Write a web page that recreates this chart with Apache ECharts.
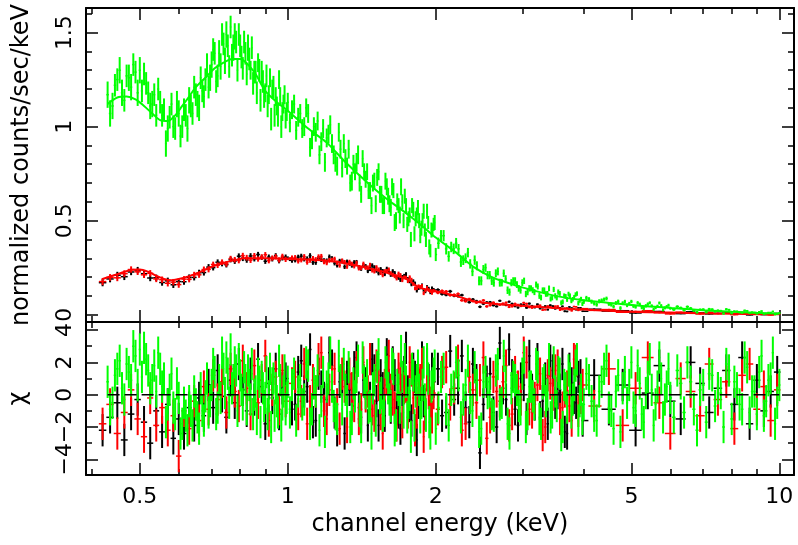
<!DOCTYPE html>
<html>
<head>
<meta charset="utf-8">
<title>spectrum fit</title>
<script src="https://cdn.jsdelivr.net/npm/echarts@6.0.0/dist/echarts.min.js"></script>
<style>
html, body { margin: 0; padding: 0; background: #fff; }
#chart { width: 798px; height: 545px; }
</style>
</head>
<body>
<div id="chart"></div>
<script>
// pn spectrum (green): bin centres in keV, counts/sec/keV, 1-sigma errors, chi residuals
const greenE = [0.430,0.435,0.440,0.445,0.450,0.455,0.460,0.465,0.470,0.475,0.480,0.485,0.490,0.495,0.500,0.505,0.510,0.515,0.520,0.525,0.530,0.535,0.540,0.545,0.550,0.555,0.560,0.565,0.570,0.575,0.580,0.585,0.590,0.595,0.600,0.605,0.610,0.615,0.620,0.625,0.630,0.635,0.640,0.645,0.650,0.655,0.660,0.665,0.670,0.675,0.680,0.685,0.690,0.695,0.700,0.705,0.710,0.715,0.720,0.725,0.730,0.735,0.740,0.745,0.750,0.755,0.760,0.765,0.770,0.775,0.780,0.785,0.790,0.795,0.800,0.805,0.810,0.815,0.820,0.825,0.830,0.835,0.840,0.845,0.850,0.855,0.860,0.865,0.870,0.875,0.880,0.885,0.890,0.895,0.900,0.905,0.910,0.915,0.920,0.925,0.930,0.935,0.940,0.945,0.950,0.955,0.960,0.965,0.970,0.975,0.980,0.985,0.990,0.995,1.000,
  1.01,1.02,1.03,1.04,1.05,1.06,1.07,1.08,1.09,1.10,1.11,1.12,1.13,1.14,1.15,1.16,1.17,1.18,1.19,1.20,1.21,1.22,1.23,1.24,1.25,1.26,1.27,1.28,1.29,1.30,1.31,1.32,1.33,1.34,1.35,1.36,1.37,1.38,1.39,1.40,1.41,1.42,1.43,1.44,1.45,1.46,1.47,1.48,1.49,1.50,1.51,1.52,1.53,1.54,1.55,1.56,1.57,1.58,1.59,1.60,1.61,1.62,1.63,1.64,1.65,1.66,1.67,1.68,1.69,1.70,1.71,1.72,1.73,1.74,1.75,1.76,1.77,1.78,1.79,1.80,1.81,1.82,1.83,1.84,1.85,1.86,1.87,1.88,1.89,1.90,1.91,1.92,1.93,1.94,1.95,1.96,1.97,1.98,1.99,2.00,
  2.025,2.05,2.075,2.10,2.125,2.15,2.175,2.20,2.225,2.25,2.275,2.30,2.325,2.35,2.375,2.40,2.425,2.45,2.475,2.50,2.525,2.55,2.575,2.60,2.625,2.65,2.675,2.70,2.725,2.75,2.775,2.80,2.825,2.85,2.875,2.90,2.925,2.95,2.975,3.00,3.025,3.05,3.075,3.10,3.125,3.15,3.175,3.20,3.225,3.25,3.275,3.30,3.325,3.35,3.375,3.40,3.425,3.45,3.475,3.50,3.525,3.55,3.575,3.60,3.625,3.65,3.675,3.70,3.725,3.75,3.775,3.80,3.825,3.85,3.875,3.90,3.925,3.95,3.975,4.00,
  4.05,4.1,4.15,4.2,4.25,4.3,4.35,4.4,4.45,4.5,4.55,4.6,4.65,4.7,4.75,4.8,4.85,4.9,4.95,5.0,5.05,5.1,5.15,5.2,5.25,5.3,5.35,5.4,5.45,5.5,5.55,5.6,5.65,5.7,5.75,5.8,5.85,5.9,5.95,6.0,
  6.1,6.2,6.3,6.4,6.5,6.6,6.7,6.8,6.9,7.0,7.1,7.2,7.3,7.4,7.5,7.6,7.7,7.8,7.9,8.0,8.1,8.2,8.3,8.4,8.5,8.6,8.7,8.8,8.9,9.0,9.1,9.2,9.3,9.4,9.5,9.6,9.7,9.8,9.9,10.0];
const greenFlux = [1.17,1.07,1.11,1.22,1.25,1.30,1.18,1.14,1.27,1.26,1.21,1.33,1.29,1.18,1.30,1.19,1.28,1.23,1.18,1.11,
  1.12,1.17,1.06,1.20,1.13,1.06,1.09,0.91,0.99,1.05,1.12,1.00,0.99,1.12,1.07,0.95,1.00,1.09,1.06,0.99,
  1.14,1.11,1.07,1.21,1.17,1.12,1.10,1.26,1.19,1.16,1.25,1.33,1.21,1.26,1.33,1.41,1.39,1.24,1.27,1.39,
  1.32,1.49,1.44,1.35,1.49,1.43,1.32,1.53,1.38,1.42,1.48,1.45,1.30,1.49,1.43,1.37,1.31,1.45,1.39,1.28,
  1.42,1.36,1.30,1.42,1.23,1.29,1.29,1.18,1.34,1.30,1.14,1.29,1.24,1.16,1.18,1.27,1.11,1.17,1.26,1.04,
  1.20,1.21,1.06,1.16,1.11,1.06,1.25,1.16,1.00,1.08,1.12,1.17,1.04,1.08,1.13,
  1.02,1.09,1.12,0.98,1.05,1.07,0.99,1.00,1.10,1.07,0.89,0.93,1.00,0.97,1.03,0.85,0.92,0.99,0.81,0.94,
  0.96,1.01,0.91,0.85,0.81,0.79,0.97,0.88,0.78,0.91,0.83,0.79,0.88,0.70,0.71,0.80,0.76,0.81,0.85,0.70,
  0.64,0.83,0.76,0.72,0.76,0.66,0.66,0.58,0.70,0.71,0.59,0.73,0.76,0.64,0.64,0.58,0.58,0.71,0.68,0.63,
  0.59,0.57,0.68,0.66,0.49,0.50,0.60,0.58,0.53,0.68,0.60,0.50,0.63,0.58,0.48,0.51,0.53,0.40,0.58,0.56,
  0.43,0.51,0.53,0.57,0.50,0.42,0.46,0.50,0.55,0.45,0.40,0.55,0.49,0.36,0.34,0.45,0.45,0.48,0.49,0.32,
  0.38,0.42,0.42,0.35,0.31,0.36,0.35,0.38,0.35,0.28,0.29,0.30,0.33,0.27,0.23,0.29,0.26,0.18,0.18,0.24,
  0.25,0.21,0.21,0.18,0.17,0.22,0.23,0.17,0.17,0.22,0.19,0.13,0.12,0.17,0.18,0.18,0.16,0.14,0.13,0.17,
  0.18,0.11,0.12,0.14,0.14,0.13,0.12,0.16,0.15,0.10,0.091,0.13,0.13,0.11,0.111,0.14,0.084,0.09,0.134,0.10,
  0.090,0.12,0.113,0.063,0.068,0.10,0.097,0.081,0.109,0.10,0.073,0.082,0.093,0.107,0.112,0.061,0.075,0.083,0.058,0.069,
  0.089,0.082,0.069,0.060,0.054,0.071,0.076,0.081,0.086,0.057,0.053,0.043,0.062,0.070,0.035,0.061,0.069,0.050,0.059,0.070,
  0.045,0.041,0.063,0.055,0.038,0.032,0.047,0.056,0.063,0.047,0.028,0.037,0.045,0.062,0.048,0.026,0.036,0.043,0.050,0.034,
  0.027,0.043,0.036,0.024,0.042,0.034,0.022,0.013,0.027,0.028,0.013,0.030,0.028,0.017,0.022,0.020,0.006,0.029,0.026,0.007,
  0.018,0.017,0.012,0.010,0.022,0.020,0.008,0.012,0.011,0.005,0.015,0.019,0.003,0.006,0.011,0.011,0.017,0.001,0.004,0.008];
const greenErr = [0.07,0.07,0.07,0.06,0.06,0.07,0.07,0.06,0.06,0.07,0.07,0.06,0.06,0.07,0.07,0.06,0.06,0.06,0.06,0.07,
  0.07,0.06,0.06,0.06,0.06,0.06,0.06,0.07,0.07,0.06,0.06,0.06,0.06,0.07,0.07,0.06,0.06,0.06,0.06,0.07,
  0.07,0.06,0.06,0.06,0.06,0.07,0.07,0.06,0.06,0.06,0.06,0.06,0.06,0.07,0.07,0.06,0.06,0.06,0.06,0.07,
  0.07,0.06,0.06,0.07,0.07,0.06,0.06,0.06,0.06,0.07,0.07,0.06,0.06,0.06,0.06,0.06,0.06,0.06,0.06,0.06,
  0.07,0.06,0.05,0.06,0.06,0.06,0.06,0.06,0.05,0.06,0.06,0.06,0.06,0.06,0.05,0.06,0.06,0.05,0.05,0.06,
  0.05,0.06,0.06,0.05,0.05,0.06,0.05,0.05,0.06,0.05,0.05,0.05,0.05,0.05,0.05,
  0.05,0.05,0.05,0.05,0.05,0.05,0.05,0.05,0.05,0.05,0.05,0.05,0.05,0.05,0.05,0.05,0.05,0.05,0.05,0.05,
  0.05,0.05,0.05,0.05,0.05,0.05,0.05,0.05,0.05,0.05,0.05,0.045,0.05,0.045,0.05,0.05,0.045,0.05,0.05,0.045,
  0.045,0.045,0.045,0.045,0.045,0.045,0.045,0.045,0.045,0.045,0.045,0.045,0.045,0.045,0.045,0.045,0.045,0.045,0.045,0.045,
  0.045,0.045,0.045,0.04,0.045,0.045,0.045,0.04,0.045,0.045,0.04,0.04,0.04,0.04,0.04,0.04,0.04,0.04,0.04,0.04,
  0.04,0.04,0.04,0.04,0.04,0.04,0.04,0.04,0.04,0.035,0.04,0.04,0.035,0.04,0.035,0.04,0.035,0.035,0.04,0.035,
  0.03,0.03,0.03,0.03,0.028,0.028,0.028,0.028,0.026,0.026,0.026,0.026,0.025,0.025,0.025,0.025,0.024,0.024,0.024,0.024,
  0.022,0.022,0.022,0.022,0.021,0.021,0.021,0.021,0.02,0.02,0.02,0.02,0.019,0.019,0.019,0.019,0.018,0.018,0.018,0.018,
  0.017,0.017,0.017,0.017,0.016,0.016,0.016,0.016,0.016,0.016,0.015,0.015,0.015,0.015,0.015,0.015,0.014,0.014,0.014,0.014,
  0.014,0.014,0.013,0.013,0.013,0.013,0.013,0.013,0.013,0.013,0.012,0.012,0.012,0.012,0.012,0.012,0.012,0.012,0.012,0.012,
  0.011,0.011,0.011,0.011,0.011,0.011,0.01,0.01,0.01,0.01,0.01,0.01,0.01,0.01,0.01,0.01,0.01,0.01,0.009,0.009,
  0.009,0.009,0.009,0.009,0.009,0.009,0.009,0.009,0.008,0.008,0.008,0.008,0.008,0.008,0.008,0.008,0.008,0.008,0.008,0.008,
  0.007,0.007,0.007,0.007,0.007,0.007,0.007,0.007,0.006,0.006,0.006,0.006,0.006,0.006,0.006,0.006,0.006,0.006,0.005,0.005,
  0.005,0.005,0.005,0.005,0.005,0.005,0.005,0.005,0.004,0.004,0.004,0.004,0.004,0.004,0.004,0.004,0.004,0.004,0.004,0.004];
const greenChi = [0.8,-0.9,-0.5,1.2,1.6,2.1,0.4,-0.3,1.9,1.4,0.9,3.0,2.4,0.6,2.8,1.1,2.9,2.2,1.5,0.4,
  0.9,1.8,0.2,2.6,1.6,0.5,1.0,-1.7,-0.6,0.3,1.3,-0.8,-1.2,0.7,-0.2,-2.4,-1.8,-0.5,-1.3,-2.2,
  -0.4,-1.0,-1.9,0.2,-0.6,-1.4,-2.1,0.4,-1.0,-1.6,-0.1,1.0,-1.1,-0.4,0.6,1.9,1.4,-1.2,-0.8,0.9,
  -0.2,2.6,1.6,0.1,2.3,1.3,-0.5,2.8,0.4,0.9,2.0,1.5,-1.0,2.2,1.2,0.3,-0.6,1.7,0.9,-0.9,
  1.5,0.6,-0.3,1.9,-1.2,0.0,0.2,-1.5,1.3,0.8,-1.7,1.1,0.4,-0.7,-0.2,1.4,-1.2,-0.1,1.6,-2.0,
  0.7,1.0,-1.3,0.4,-0.4,-1.1,2.1,0.9,-1.9,-0.6,0.2,1.5,-0.9,-0.2,0.8,
  -1.1,0.6,1.3,-1.6,0.2,0.9,-0.6,-0.3,2.0,1.8,-1.8,-0.9,0.7,0.2,1.5,-2.2,-0.4,1.4,-2.3,0.5,
  1.0,2.6,0.5,-0.7,-1.2,-1.5,2.4,0.9,-0.9,1.9,0.3,-0.4,1.7,-2.0,-1.5,0.7,-0.1,1.1,2.1,-1.0,
  -2.0,2.3,0.8,0.1,1.2,-0.8,-0.7,-2.4,0.4,0.9,-1.6,1.7,2.5,-0.2,0.1,-1.3,-1.0,2.0,1.4,0.4,
  -0.3,-0.7,1.9,1.6,-2.2,-1.9,0.6,0.3,-0.8,2.7,1.1,-1.1,2.2,0.8,-1.4,-0.5,0.0,-2.6,1.6,1.2,
  -1.9,0.2,0.9,1.8,0.3,-1.4,-0.5,0.6,2.0,-0.3,-1.3,2.2,1.0,-1.7,-2.4,0.5,0.7,1.3,1.8,-2.1,
  -0.8,1.1,1.6,-0.9,-1.9,0.3,0.5,2.0,1.2,-1.4,-0.3,0.6,2.1,-0.2,-1.0,1.7,0.6,-2.3,-2.1,0.8,
  1.4,0.1,0.2,-1.2,-1.3,1.5,1.9,-0.6,-0.5,2.4,0.8,-1.8,-2.4,0.4,1.1,0.9,0.3,-0.7,-0.9,1.3,
  2.3,-2.0,-1.2,0.5,0.5,-0.1,-0.6,1.9,1.7,-1.5,-1.8,0.7,0.9,-0.4,0.0,2.2,-1.4,-1.1,2.0,0.2,
  -0.7,1.4,1.3,-2.5,-2.0,0.6,0.4,-0.8,1.5,1.0,-1.1,-0.3,0.6,1.8,2.2,-1.6,-0.4,0.3,-1.5,-0.6,
  1.3,0.9,-0.4,-1.3,-1.6,0.2,0.8,1.6,2.1,-0.8,-1.0,-2.1,0.2,1.2,-2.3,0.4,1.4,-0.5,0.6,2.0,
  -0.8,-1.0,1.8,0.7,-1.2,-1.7,0.1,1.1,2.2,0.3,-1.9,-0.6,0.5,2.3,1.0,-1.4,-0.3,0.5,1.6,-0.2,
  -1.4,1.5,0.7,-1.1,2.0,0.8,-0.9,-2.2,0.3,0.6,-1.7,1.3,1.2,-0.7,0.4,0.1,-2.0,1.9,1.5,-1.5,
  0.8,0.4,-0.6,-0.9,2.3,1.7,-1.1,0.2,0.2,-1.2,1.4,2.4,-1.3,-0.4,0.9,1.0,2.6,-1.8,-0.5,0.6];

// MOS spectra (black, red) on a shared bin grid
const mosE = [0.420,0.435,0.450,0.465,0.480,0.495,0.510,0.525,0.540,0.555,0.570,0.585,0.600,0.615,0.630,0.645,0.660,0.675,0.690,0.705,0.720,0.735,0.750,0.765,0.780,0.795,0.810,0.825,0.840,0.855,0.870,0.885,0.900,0.915,0.930,0.945,0.960,0.975,0.990,
  1.02,1.035,1.05,1.065,1.08,1.095,1.11,1.125,1.14,1.155,1.17,1.185,1.20,1.215,1.23,1.245,1.26,1.275,1.29,1.305,1.32,1.335,1.35,1.365,1.38,1.395,1.41,1.425,1.44,1.455,1.47,1.485,1.50,1.515,1.53,1.545,1.56,1.575,1.59,1.605,1.62,1.635,1.65,1.665,1.68,1.695,1.71,1.725,1.74,1.755,1.77,1.785,1.80,1.815,1.83,1.845,1.86,1.875,1.89,1.905,1.92,1.935,1.95,1.965,1.98,
  2.02,2.06,2.10,2.14,2.18,2.22,2.26,2.30,2.34,2.38,2.42,2.46,2.50,2.54,2.58,2.62,2.66,2.70,2.74,2.78,2.82,2.86,2.90,2.94,2.98,3.02,3.06,3.10,3.14,3.18,3.22,3.26,3.30,3.34,3.38,3.42,3.46,3.50,3.54,3.58,3.62,3.66,3.70,3.74,3.78,3.82,3.86,3.90,3.94,3.98,
  4.2,4.5,4.8,5.1,5.4,5.7,6.0,6.3,6.6,6.9,7.2,7.5,7.8,8.1,8.4,8.7,9.0,9.3,9.6,9.9];
const mosErr = [0.019,0.018,0.018,0.018,0.017,0.017,0.017,0.017,0.017,0.017,0.017,0.017,0.017,0.016,0.016,0.016,0.016,0.016,0.016,0.015,0.015,0.015,0.015,0.015,0.015,0.015,0.015,0.015,0.015,0.014,0.014,0.014,0.014,0.014,0.014,0.014,0.014,0.014,0.014,
  0.013,0.013,0.013,0.013,0.013,0.013,0.013,0.013,0.013,0.013,0.013,0.013,0.013,0.013,0.012,0.012,0.012,0.012,0.012,0.012,0.012,0.012,0.012,0.012,0.012,0.012,0.012,0.012,0.012,0.012,0.012,0.012,
  0.011,0.011,0.011,0.011,0.011,0.011,0.011,0.011,0.011,0.011,0.011,0.011,0.011,0.011,0.011,0.011,0.011,0.011,0.010,0.010,0.010,0.010,0.010,0.010,0.010,0.010,0.010,0.010,0.010,0.010,0.010,0.010,0.010,
  0.008,0.008,0.008,0.008,0.008,0.008,0.007,0.007,0.007,0.007,0.007,0.007,0.007,0.007,0.007,0.007,0.006,0.006,0.006,0.006,0.006,0.006,0.006,0.006,0.006,0.006,0.006,0.006,0.006,0.006,
  0.005,0.005,0.005,0.005,0.005,0.005,0.005,0.005,0.005,0.005,0.005,0.005,0.004,0.004,0.004,0.004,0.004,0.004,0.004,0.004,
  0.004,0.004,0.004,0.004,0.003,0.003,0.003,0.003,0.003,0.003,0.003,0.003,0.003,0.003,0.002,0.002,0.002,0.002,0.002,0.002];
const redFlux = [0.176,0.198,0.196,0.218,0.240,0.228,0.212,0.220,0.190,0.186,0.167,0.173,0.160,0.189,0.188,0.212,0.212,0.240,0.241,0.267,0.263,0.279,0.270,0.298,0.292,0.288,0.314,0.303,0.290,0.314,0.296,0.307,0.319,0.287,0.301,0.308,0.291,0.310,0.294,
  0.302,0.304,0.285,0.291,0.309,0.279,0.289,0.299,0.293,0.308,0.310,0.281,0.276,0.289,0.291,0.296,0.276,0.262,0.287,0.279,0.256,0.280,0.270,0.258,0.275,0.247,0.249,0.270,0.250,0.250,0.264,0.236,0.230,0.252,0.240,0.222,0.210,0.231,0.232,0.240,0.220,0.212,0.205,0.193,0.218,0.210,0.184,0.198,0.196,0.179,0.199,0.186,0.163,0.140,0.141,0.151,0.147,0.153,0.114,0.129,0.142,0.131,0.125,0.116,0.127,
  0.117,0.126,0.123,0.104,0.105,0.110,0.076,0.071,0.083,0.072,0.064,0.069,0.076,0.044,0.050,0.064,0.057,0.053,0.059,0.064,0.041,0.044,0.058,0.052,0.046,0.063,0.058,0.040,0.037,0.042,0.046,0.049,0.025,0.027,0.045,0.041,0.036,0.044,0.045,0.025,0.028,0.033,0.035,0.027,0.021,0.043,0.042,0.023,0.027,0.032,
  0.023,0.027,0.013,0.017,0.021,0.010,0.004,0.013,0.010,0.0035,0.013,0.005,0.008,0.000,0.008,0.010,0.001,0.0045,-0.002,0.0035];
const blackFlux = [0.170,0.190,0.210,0.202,0.227,0.237,0.218,0.195,0.196,0.171,0.180,0.159,0.176,0.175,0.198,0.198,0.223,0.224,0.253,0.250,0.279,0.272,0.266,0.293,0.285,0.311,0.300,0.291,0.312,0.297,0.320,0.305,0.284,0.306,0.297,0.313,0.287,0.302,0.306,
  0.289,0.291,0.306,0.311,0.296,0.297,0.314,0.278,0.278,0.300,0.293,0.287,0.286,0.307,0.299,0.274,0.263,0.285,0.284,0.255,0.281,0.272,0.262,0.278,0.279,0.252,0.245,0.261,0.257,0.233,0.244,0.261,0.252,0.234,0.220,0.242,0.232,0.216,0.244,0.226,0.212,0.231,0.221,0.201,0.196,0.185,0.200,0.206,0.215,0.189,0.177,0.161,0.178,0.166,0.128,0.141,0.145,0.156,0.132,0.124,0.147,0.138,0.119,0.140,0.132,
  0.132,0.110,0.106,0.124,0.101,0.099,0.104,0.077,0.066,0.081,0.072,0.042,0.058,0.065,0.066,0.050,0.044,0.074,0.056,0.051,0.069,0.058,0.045,0.038,0.054,0.051,0.037,0.059,0.046,0.039,0.055,0.033,0.038,0.045,0.027,0.050,0.045,0.032,0.035,0.036,0.044,0.018,0.017,0.041,0.035,0.029,0.027,0.036,0.036,0.018,
  0.029,0.019,0.021,0.009,0.014,0.017,0.010,0.0055,0.015,0.0095,0.004,0.007,0.010,0.003,0.0115,-0.0014,0.006,0.000,0.0034,0.0065];
const redChi = [-1.8,-0.6,-2.4,-1.1,0.3,-1.5,-2.6,-0.2,-1.9,-0.8,-2.2,-1.3,-3.8,-1.0,-2.1,-0.4,-1.6,0.5,-0.9,1.2,-0.3,0.8,-1.1,1.6,0.2,-0.7,2.1,0.4,-1.2,1.8,-0.5,0.9,2.4,-1.6,0.3,1.1,-0.9,1.5,-0.4,
  0.7,1.1,-1.2,-0.4,1.9,-1.8,-0.4,0.9,0.2,2.2,2.6,-1.0,-1.5,0.3,0.8,1.6,-0.6,-2.1,1.3,0.5,-2.0,1.3,0.4,-0.7,1.7,-1.5,-0.9,2.0,-0.1,0.2,2.2,-0.9,-1.3,1.8,0.6,-1.2,-2.4,0.6,1.0,2.4,0.3,-0.3,-0.8,-1.9,1.6,1.0,-1.7,0.4,0.5,-1.1,2.0,1.5,-0.2,-2.2,-1.1,0.7,0.9,1.9,-2.6,-0.6,1.2,0.1,-0.5,-1.4,0.1,
  -0.9,1.4,1.7,-0.6,0.4,2.1,-2.2,-1.8,1.1,0.3,-0.5,0.9,2.3,-2.7,-1.4,1.1,0.2,-0.4,0.8,1.8,-1.9,-1.2,1.4,0.5,-0.3,2.6,2.0,-0.9,-1.1,-0.2,0.6,1.3,-2.5,-2.0,1.2,0.7,0.0,1.5,1.8,-1.5,-0.8,0.2,0.5,-0.7,-1.6,2.2,2.1,-1.0,-0.2,0.6,
  -0.7,1.6,-1.9,0.4,2.3,-0.5,-2.4,1.0,0.2,-1.3,1.9,-0.3,0.8,-2.1,1.2,1.9,-0.9,0.5,-1.6,0.3];
const blackChi = [-2.2,-1.4,-0.5,-2.8,-1.2,-0.3,-1.7,-3.0,-1.0,-2.3,-0.6,-2.7,-1.5,-2.4,-0.8,-1.9,-0.2,-1.3,0.6,-0.8,1.5,-0.1,-1.4,0.9,-0.5,1.9,0.3,-1.0,1.3,-0.3,2.2,0.5,-1.8,0.7,-0.2,1.6,-1.2,0.4,1.0,
  -0.9,-0.6,1.4,2.1,0.2,0.5,2.8,-1.7,-1.6,1.3,0.5,-0.2,-0.3,2.6,1.8,-1.1,-2.2,0.8,0.9,-2.4,1.1,0.3,-0.6,1.7,2.3,-0.8,-1.4,0.9,0.7,-1.9,-0.2,2.2,1.5,-0.4,-1.9,1.2,0.4,-1.3,2.5,0.6,-0.8,2.0,1.2,-0.9,-1.1,-2.1,0.3,1.4,2.9,0.2,-0.7,-1.6,1.6,1.1,-2.8,-0.5,0.6,2.3,-0.4,-1.2,1.9,0.9,-1.3,1.6,0.8,
  1.6,-1.3,-1.1,2.7,-0.3,0.4,2.4,-0.8,-1.7,1.9,0.9,-3.6,-0.6,0.8,1.3,-1.1,-2.0,3.2,0.4,-0.3,2.8,1.2,-0.9,-1.9,1.0,0.6,-1.5,2.4,0.3,-0.6,2.2,-1.4,-0.4,1.0,-1.8,2.1,1.5,-0.5,0.1,0.3,1.9,-2.3,-2.4,1.6,0.7,-0.2,-0.5,1.1,1.2,-1.6,
  1.2,-0.9,0.6,-2.2,0.1,1.8,-0.4,-1.5,2.0,0.7,-1.1,0.4,1.5,-0.6,2.3,-1.8,0.9,-1.0,0.2,1.4];

// folded models
const greenModelE = [0.43,0.45,0.47,0.49,0.51,0.53,0.55,0.57,0.59,0.61,0.63,0.65,0.68,0.71,0.74,0.77,0.80,0.83,0.86,0.90,0.95,1.0,1.1,1.2,1.3,1.4,1.5,1.6,1.7,1.8,1.9,2.0,2.2,2.4,2.6,2.8,3.0,3.5,4.0,5.0,6.0,7.0,8.0,9.0,10.0];
const greenModel = [1.12,1.155,1.16,1.145,1.11,1.07,1.035,1.03,1.06,1.11,1.16,1.21,1.26,1.31,1.34,1.36,1.36,1.33,1.28,1.19,1.13,1.085,0.99,0.915,0.82,0.74,0.67,0.61,0.56,0.51,0.46,0.41,0.33,0.25,0.20,0.17,0.145,0.10,0.077,0.052,0.036,0.024,0.016,0.010,0.006];
const mosModelE = [0.42,0.45,0.48,0.50,0.52,0.54,0.56,0.58,0.60,0.63,0.66,0.70,0.74,0.78,0.82,0.90,1.0,1.1,1.2,1.3,1.4,1.5,1.6,1.7,1.75,1.8,1.85,1.9,2.0,2.2,2.4,2.7,3.0,3.5,4.0,5.0,6.0,7.0,8.0,9.0,10.0];
const mosModel = [0.19,0.215,0.238,0.240,0.228,0.207,0.19,0.183,0.19,0.205,0.225,0.255,0.275,0.29,0.30,0.30,0.297,0.293,0.288,0.275,0.258,0.24,0.222,0.20,0.19,0.165,0.145,0.135,0.125,0.10,0.07,0.055,0.047,0.035,0.027,0.016,0.011,0.007,0.005,0.003,0.002];

// axis ticks
const xMajor = [0.5, 1, 2, 5, 10];
const xMinor = [0.4, 0.6, 0.7, 0.8, 0.9, 3, 4, 6, 7, 8, 9];
const topMajor = [0, 0.5, 1, 1.5];
const topMinor = [0.1, 0.2, 0.3, 0.4, 0.6, 0.7, 0.8, 0.9, 1.1, 1.2, 1.3, 1.4, 1.6];
const chiMajor = [-4, -2, 0, 2, 4];
const chiMinor = [-3, -1, 1, 3];

const FONT = 'DejaVu Sans';
const X_MIN = 0.3886, X_MAX = 10.71;

function binEdges(e) {
  return e.map((v, i) => {
    const prev = i > 0 ? e[i - 1] : v * v / e[i + 1];
    const next = i < e.length - 1 ? e[i + 1] : v * v / e[i - 1];
    return [Math.sqrt(prev * v), Math.sqrt(v * next)];
  });
}

// rows: [E, y, yLow, yHigh, eLow, eHigh]
function crosses(e, y, err) {
  if (y.length !== e.length || (err && err.length !== e.length)) {
    console.error('length mismatch', e.length, y.length, err && err.length);
  }
  const edges = binEdges(e);
  return e.map((v, i) => {
    const s = err ? err[i] : 1;
    return [v, y[i], y[i] - s, y[i] + s, edges[i][0], edges[i][1]];
  });
}

function crossRenderer(color) {
  return function (params, api) {
    const y = api.value(1);
    const a = api.coord([api.value(4), y]);
    const b = api.coord([api.value(5), y]);
    const c = api.coord([api.value(0), api.value(2)]);
    const d = api.coord([api.value(0), api.value(3)]);
    return {
      type: 'group',
      children: [
        { type: 'line', shape: { x1: a[0], y1: a[1], x2: b[0], y2: b[1] }, style: { stroke: color, lineWidth: 1.5 } },
        { type: 'line', shape: { x1: c[0], y1: c[1], x2: d[0], y2: d[1] }, style: { stroke: color, lineWidth: 2 } }
      ]
    };
  };
}

function crossSeries(data, color, grid, z) {
  return {
    type: 'custom',
    xAxisIndex: grid * 4,
    yAxisIndex: grid * 4,
    data: data,
    renderItem: crossRenderer(color),
    encode: { x: 0, y: [1, 2, 3] },
    clip: true,
    silent: true,
    z: z
  };
}

function fmt(v) {
  return v < 0 ? '\u2212' + (-v) : String(v);
}

function xAxes(grid, labels) {
  const base = { type: 'log', logBase: 10, min: X_MIN, max: X_MAX, gridIndex: grid, splitLine: { show: false } };
  const major = (pos) => Object.assign({}, base, {
    position: pos,
    axisLine: { show: true, onZero: false, lineStyle: { color: '#000', width: 2 } },
    axisTick: { show: true, inside: true, length: 12, customValues: xMajor, lineStyle: { color: '#000', width: 1.5 } },
    axisLabel: {
      show: labels && pos === 'bottom', customValues: xMajor, margin: 11,
      color: '#000', fontFamily: FONT, fontSize: 22, formatter: (v) => String(v)
    }
  });
  const minor = (pos) => Object.assign({}, base, {
    position: pos,
    axisLine: { show: false, onZero: false },
    axisTick: { show: true, inside: true, length: 6, customValues: xMinor, lineStyle: { color: '#000', width: 1.5 } },
    axisLabel: { show: false }
  });
  const bottom = major('bottom');
  if (labels) {
    bottom.name = 'channel energy (keV)';
    bottom.nameLocation = 'middle';
    bottom.nameGap = 38;
    bottom.nameTextStyle = { color: '#000', fontFamily: FONT, fontSize: 24 };
  }
  return [bottom, minor('bottom'), major('top'), minor('top')];
}

function yAxes(grid, min, max, majors, minors, name, nameGap) {
  const base = { type: 'value', min: min, max: max, gridIndex: grid, splitLine: { show: false } };
  const major = (pos) => Object.assign({}, base, {
    position: pos,
    axisLine: { show: true, onZero: false, lineStyle: { color: '#000', width: 2 } },
    axisTick: { show: true, inside: true, length: 12, customValues: majors, lineStyle: { color: '#000', width: 1.5 } },
    axisLabel: {
      show: pos === 'left', customValues: majors, rotate: 90, margin: 10,
      color: '#000', fontFamily: FONT, fontSize: 22, formatter: fmt
    }
  });
  const minor = (pos) => Object.assign({}, base, {
    position: pos,
    axisLine: { show: false, onZero: false },
    axisTick: { show: true, inside: true, length: 6, customValues: minors, lineStyle: { color: '#000', width: 1.5 } },
    axisLabel: { show: false }
  });
  const left = major('left');
  left.name = name;
  left.nameLocation = 'middle';
  left.nameRotate = 90;
  left.nameGap = nameGap;
  left.nameTextStyle = { color: '#000', fontFamily: FONT, fontSize: 24 };
  return [left, minor('left'), major('right'), minor('right')];
}

const chart = echarts.init(document.getElementById('chart'), null, { renderer: 'canvas' });

const option = {
  animation: false,
  backgroundColor: '#fff',
  grid: [
    { left: 86, right: 4, top: 8, height: 314, outerBoundsMode: 'none' },
    { left: 86, right: 4, top: 322, height: 153, outerBoundsMode: 'none' }
  ],
  xAxis: xAxes(0, false).concat(xAxes(1, true)),
  yAxis: yAxes(0, -0.039, 1.631, topMajor, topMinor, 'normalized counts/sec/keV', 52)
    .concat(yAxes(1, -4.97, 4.5, chiMajor, chiMinor, '\u03c7', 55)),
  series: [
    crossSeries(crosses(mosE, blackFlux, mosErr), '#000000', 0, 2),
    crossSeries(crosses(mosE, redFlux, mosErr), '#ff0000', 0, 3),
    {
      type: 'line', xAxisIndex: 0, yAxisIndex: 0, z: 4, silent: true,
      data: mosModelE.map((e, i) => [e, mosModel[i]]),
      smooth: 0.3, showSymbol: false, lineStyle: { color: '#ff0000', width: 2 }
    },
    crossSeries(crosses(greenE, greenFlux, greenErr), '#00ff00', 0, 5),
    {
      type: 'line', xAxisIndex: 0, yAxisIndex: 0, z: 6, silent: true,
      data: greenModelE.map((e, i) => [e, greenModel[i]]),
      smooth: 0.3, showSymbol: false, lineStyle: { color: '#00ff00', width: 2 }
    },
    crossSeries(crosses(mosE, blackChi, null), '#000000', 1, 2),
    crossSeries(crosses(mosE, redChi, null), '#ff0000', 1, 3),
    crossSeries(crosses(greenE, greenChi, null), '#00ff00', 1, 5),
    {
      type: 'line', xAxisIndex: 4, yAxisIndex: 4, z: 7, silent: true,
      data: [[greenE[0], 0], [greenE[greenE.length - 1], 0]],
      showSymbol: false, lineStyle: { color: '#000', width: 1.5, type: [12, 5] }
    }
  ]
};

chart.setOption(option);
</script>
</body>
</html>
